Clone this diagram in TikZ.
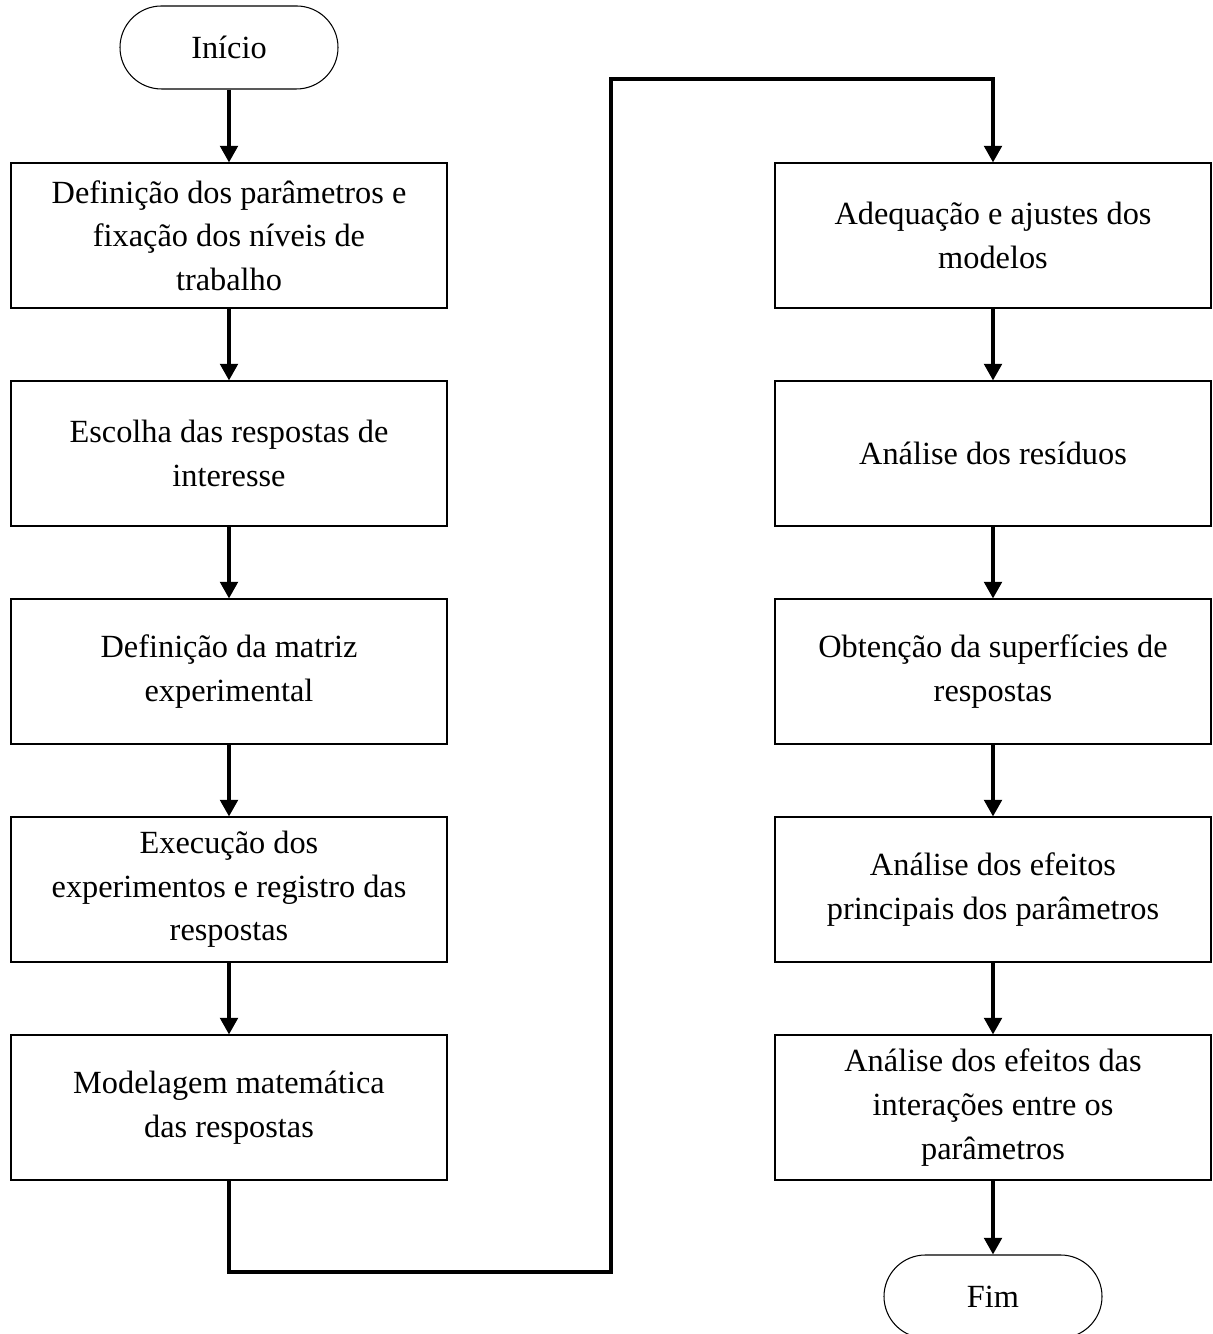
\documentclass[tikz,border=0pt]{standalone}
\usepackage{fontspec}
\setmainfont{Liberation Serif}
\usepackage{tikz}
\usetikzlibrary{arrows.meta}

\tikzset{
    etapa/.style={draw, line width=0.6pt, minimum width=8.72cm, minimum height=2.9cm, align=center, inner sep=0pt},
    terminal/.style={draw, line width=0.6pt, rounded corners=0.83cm, minimum width=4.36cm, minimum height=1.66cm, inner sep=0pt},
    fluxo/.style={line width=2.1pt, -{Triangle[length=9.5pt, width=10pt]}}
}

\begin{document}
\begin{tikzpicture}[font=\fontsize{18.4}{24.8}\selectfont]
    \useasboundingbox (0,0) rectangle (24.24,26.68);
    \clip (0,0) rectangle (24.24,26.68);

    % Start and end
    \node[terminal] (inicio) at (4.58,25.73) {Início};
    \node[terminal] (fim) at (19.86,0.75) {Fim};

    % Left column
    \node[etapa] (n1) at (4.58,21.97) {Definição dos parâmetros e\\fixação dos níveis de\\trabalho};
    \node[etapa] (n2) at (4.58,17.61) {Escolha das respostas de\\interesse};
    \node[etapa] (n3) at (4.58,13.25) {Definição da matriz\\experimental};
    \node[etapa] (n4) at (4.58,8.89) {Execução dos\\experimentos e registro das\\respostas};
    \node[etapa] (n5) at (4.58,4.53) {Modelagem matemática\\das respostas};

    % Right column
    \node[etapa] (n6) at (19.86,21.97) {Adequação e ajustes dos\\modelos};
    \node[etapa] (n7) at (19.86,17.61) {Análise dos resíduos};
    \node[etapa] (n8) at (19.86,13.25) {Obtenção da superfícies de\\respostas};
    \node[etapa] (n9) at (19.86,8.89) {Análise dos efeitos\\principais dos parâmetros};
    \node[etapa] (n10) at (19.86,4.53) {Análise dos efeitos das\\interações entre os\\parâmetros};

    % Arrows down each column
    \draw[fluxo] (inicio) -- (n1);
    \draw[fluxo] (n1) -- (n2);
    \draw[fluxo] (n2) -- (n3);
    \draw[fluxo] (n3) -- (n4);
    \draw[fluxo] (n4) -- (n5);

    \draw[fluxo] (n6) -- (n7);
    \draw[fluxo] (n7) -- (n8);
    \draw[fluxo] (n8) -- (n9);
    \draw[fluxo] (n9) -- (n10);
    \draw[fluxo] (n10) -- (fim);

    % Link between the columns
    \coordinate (baixo) at (12.22,1.24);
    \coordinate (alto) at (12.22,25.10);
    \draw[fluxo] (n5.south) |- (baixo) -- (alto) -| (n6.north);
\end{tikzpicture}
\end{document}
